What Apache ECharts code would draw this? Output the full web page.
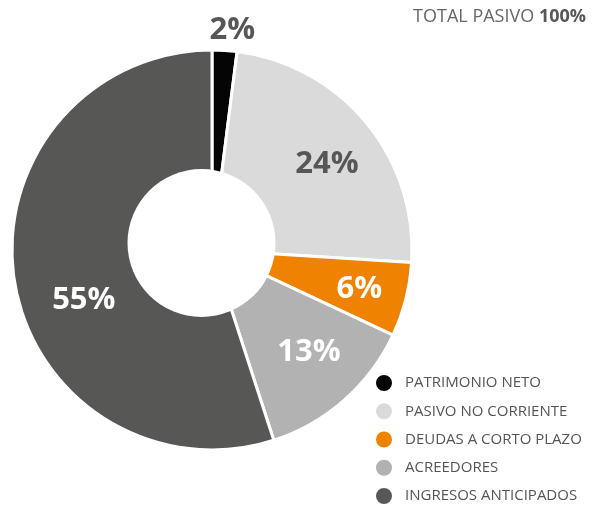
<!DOCTYPE html>
<html>
<head>
    <meta charset="utf-8" />
    <title>Total pasivo</title>
    <style>
        html, body { margin: 0; padding: 0; background: #fff; }
        #pie { width: 593px; height: 505px; }
    </style>
</head>
<body>
    <div id="pie"></div>
    <script src="https://cdn.jsdelivr.net/npm/echarts@6/dist/echarts.min.js"></script>
    <script>
        // datos
        var categorias = ['PATRIMONIO NETO', 'PASIVO NO CORRIENTE', 'DEUDAS A CORTO PLAZO', 'ACREEDORES', 'INGRESOS ANTICIPADOS'];
        var valores = [2, 24, 6, 13, 55];
        var colores = ['#050505', '#dadada', '#ef8200', '#b2b2b2', '#575756'];
        // color del texto de cada porcentaje
        var colorTexto = ['#575756', '#575756', '#fff', '#fff', '#fff'];
        // desplazamiento de etiquetas (solo estilo)
        var desplaz = [[11, -72], [1, 9], [4, 2], [-1, -9], [18, 27]];

        var fuente = '"Open Sans", "DejaVu Sans", sans-serif';
        var centro = [212, 250];

        var datos = [], etiquetas = [];
        for (var i = 0; i < categorias.length; i++) {
            datos.push({ name: categorias[i], value: valores[i], itemStyle: { color: colores[i] } });
            etiquetas.push({
                name: categorias[i], value: valores[i],
                label: { color: colorTexto[i], offset: desplaz[i] }
            });
        }

        var myChart = echarts.init(document.getElementById('pie'));
        var option = {
            backgroundColor: '#fff',
            animation: false,
            title: {
                text: '{a|TOTAL PASIVO }{b|100%}',
                right: 2,
                top: 3,
                textStyle: {
                    fontFamily: fuente,
                    fontSize: 18,
                    fontWeight: 'normal',
                    color: '#666',
                    rich: {
                        a: { fontFamily: fuente, fontSize: 18, fontWeight: 'normal', color: '#666' },
                        b: { fontFamily: fuente, fontSize: 18, fontWeight: 'bold', color: '#575756' }
                    }
                }
            },
            legend: {
                orient: 'vertical',
                left: 374,
                top: 373,
                height: 160,
                padding: 0,
                icon: 'circle',
                itemWidth: 18,
                itemHeight: 18,
                itemGap: 8.25,
                selectedMode: false,
                data: categorias,
                textStyle: { fontFamily: fuente, fontSize: 15, lineHeight: 18, color: '#555', padding: [0, 0, 0, 7] }
            },
            // hueco blanco (desplazado como en el original)
            graphic: [{
                type: 'circle',
                z: 5,
                shape: { cx: 201.5, cy: 243, r: 74 },
                style: { fill: '#fff' }
            }],
            series: [
                {
                    name: 'pasivo',
                    type: 'pie',
                    center: centro,
                    radius: [60, 200],
                    startAngle: 90,
                    clockwise: true,
                    z: 2,
                    silent: true,
                    label: { show: false },
                    labelLine: { show: false },
                    itemStyle: { borderColor: '#fff', borderWidth: 3 },
                    data: datos
                },
                {
                    name: 'etiquetas',
                    type: 'pie',
                    center: centro,
                    radius: [90, 200],
                    startAngle: 90,
                    clockwise: true,
                    z: 10,
                    silent: true,
                    itemStyle: { color: 'rgba(0,0,0,0)' },
                    labelLine: { show: false },
                    label: {
                        show: true,
                        position: 'inside',
                        formatter: '{c}%',
                        fontFamily: fuente,
                        fontSize: 31,
                        fontWeight: 'bold'
                    },
                    data: etiquetas
                }
            ]
        };
        myChart.setOption(option);
    </script>
</body>
</html>
